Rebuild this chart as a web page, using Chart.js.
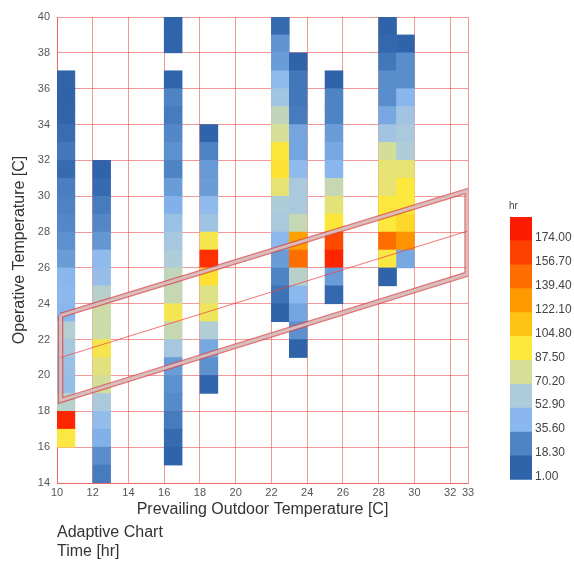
<!DOCTYPE html>
<html>
<head>
<meta charset="utf-8">
<title>Adaptive Chart</title>
<script src="https://cdn.jsdelivr.net/npm/chart.js@4.4.1/dist/chart.umd.min.js"></script>
<style>
  html, body { margin: 0; padding: 0; background: #fff; }
  #wrap { position: relative; width: 574px; height: 571px; font-family: 'Liberation Sans', Arial, sans-serif; }
  #mainBox { position: absolute; left: 0; top: 0; width: 574px; height: 571px; }
  #legendBox { position: absolute; left: 505px; top: 205px; width: 69px; height: 285px; }
  .unit { position: absolute; left: 509px; top: 200px; font-size: 10px; color: #444; }
  .caption { position: absolute; left: 57px; top: 523px; font-size: 16px; line-height: 18.5px; color: #333; }
</style>
</head>
<body>
<div id="wrap">
  <div id="mainBox"><canvas id="adaptiveChart"></canvas></div>
  <div id="legendBox"><canvas id="legendChart"></canvas></div>
  <div class="unit">hr</div>
  <div class="caption">Adaptive Chart<br>Time [hr]</div>
</div>
<script>
// axis ticks
const xTicks = [10, 12, 14, 16, 18, 20, 22, 24, 26, 28, 30, 32, 33];

// heatmap columns: left edge of each 1C column and the top of its first cell
const columnX = [10, 12, 16, 18, 22, 23, 25, 28, 29];
const columnTop = [37, 32, 40, 34, 40, 38, 37, 40, 39];

// hours per 1C cell, read from the top cell downwards (null = empty cell)
const hours10 = [10, 6, 10, 15, 20, 14, 24, 26, 28, 31, 35, 44, 45, 44, 64, 58, 52, 50, 66, 178, 95];
const hours12 = [8, 14, 22, 28, 33, 46, 50, 66, 75, 75, 93, 84, 78, 60, 48, 42, 30, 22];
const hours16 = [10, 10, null, 10, 27, 22, 28, 31, 27, 35, 42, 52, 58, 62, 70, 72, 92, 72, 58, 35, 31, 29, 22, 14, 9];
const hours18 = [9, 26, 34, 35, 46, 54, 93, 172, 100, 82, 90, 63, 39, 31, 10];
const hours22 = [14, 32, 35, 46, 55, 70, 79, 97, 99, 86, 62, 60, 45, 35, 27, 18, 9];
const hours23 = [8, 20, 20, 22, 38, 38, 46, 60, 60, 72, 128, 148, 66, 45, 38, 31, 9];
const hours25 = [9, 27, 27, 35, 39, 44, 72, 85, 97, 162, 178, 35, 12];
const hours28 = [8, 12, 20, 30, 30, 39, 55, 78, 86, 86, 96, 96, 148, 95, 9];
const hours29 = [8, 30, 30, 44, 55, 60, 62, 86, 96, 96, 104, 133, 39];
const columnHours = [hours10, hours12, hours16, hours18, hours22, hours23, hours25, hours28, hours29];

// colour legend
const legendLabels = ['1.00', '18.30', '35.60', '52.90', '70.20', '87.50', '104.80', '122.10', '139.40', '156.70', '174.00'];
const legendColors = ['#2f63aa', '#4f84c4', '#8ab8ee', '#aecbdb', '#d5df98', '#fde83c', '#fec313', '#fe9a00', '#fe6d00', '#fe4000', '#fd1c00'];
const legendStep = 17.3;

// comfort zone outline and neutral line
const bandX = [10.2, 32.95, 32.95, 10.2, 10.2];
const bandY = [23.35, 30.3, 25.65, 18.6, 23.35];
const meanX = [10.2, 32.95];
const meanY = [21.0, 28.05];

const gridColor = 'rgba(235, 50, 50, 0.5)';

Chart.defaults.font.family = "'Liberation Sans', Arial, sans-serif";

function hexToRgb(hex) {
  const n = parseInt(hex.slice(1), 16);
  return [n >> 16, (n >> 8) & 255, n & 255];
}

function colorFor(value) {
  let p = (value - 1) / legendStep - 0.5;
  p = Math.max(0, Math.min(legendColors.length - 1, p));
  const i = Math.min(Math.floor(p), legendColors.length - 2);
  const t = p - i;
  const a = hexToRgb(legendColors[i]);
  const b = hexToRgb(legendColors[i + 1]);
  const c = a.map((ch, k) => Math.round(ch + (b[k] - ch) * t));
  return `rgb(${c.join(',')})`;
}

function buildCells() {
  const cells = [];
  columnX.forEach((x0, i) => {
    columnHours[i].forEach((v, j) => {
      if (v === null) return;
      const top = columnTop[i] - j;
      cells.push({ x: x0 + 0.5, y: [top - 1, top], v });
    });
  });
  return cells;
}

function toPoints(xs, ys) {
  return xs.map((x, i) => ({ x, y: ys[i] }));
}

const lineBase = { type: 'line', pointRadius: 0, fill: false, tension: 0, borderJoinStyle: 'miter' };

new Chart(document.getElementById('adaptiveChart'), {
  type: 'bar',
  data: {
    datasets: [
      { ...lineBase, data: toPoints(meanX, meanY), borderColor: 'rgba(235, 70, 70, 0.75)', borderWidth: 1, order: 0 },
      { ...lineBase, data: toPoints(bandX, bandY), borderColor: 'rgba(214, 200, 200, 0.88)', borderWidth: 3, order: 1 },
      { ...lineBase, data: toPoints(bandX, bandY), borderColor: 'rgba(215, 70, 70, 0.75)', borderWidth: 5.5, order: 2 },
      {
        data: buildCells(),
        backgroundColor: (ctx) => (ctx.raw ? colorFor(ctx.raw.v) : '#fff'),
        barPercentage: 1,
        categoryPercentage: 1,
        grouped: false,
        order: 3,
      },
    ],
  },
  options: {
    responsive: true,
    maintainAspectRatio: false,
    animation: false,
    layout: { padding: { top: 17, right: 106, bottom: 48, left: 0 } },
    plugins: {
      legend: { display: false },
      tooltip: { enabled: false },
    },
    scales: {
      x: {
        type: 'linear',
        min: 10,
        max: 33,
        offset: false,
        z: 1,
        afterBuildTicks: (scale) => {
          scale.ticks = xTicks.map((value) => ({ value }));
        },
        afterFit: (scale) => {
          scale.height = 40;
        },
        grid: { color: gridColor, drawTicks: false, offset: false },
        border: { color: gridColor },
        ticks: { color: '#555', font: { size: 11 }, padding: 3, autoSkip: false, maxRotation: 0 },
        title: {
          display: true,
          text: 'Prevailing Outdoor Temperature [C]',
          color: '#333',
          font: { size: 16 },
          padding: { top: 0, bottom: 4 },
        },
      },
      y: {
        type: 'linear',
        min: 14,
        max: 40,
        z: 1,
        afterFit: (scale) => {
          scale.width = 57;
        },
        grid: { color: gridColor, drawTicks: false },
        border: { color: gridColor },
        ticks: { stepSize: 2, color: '#555', font: { size: 11 }, padding: 7 },
        title: {
          display: true,
          text: 'Operative Temperature [C]',
          color: '#333',
          font: { size: 16 },
          padding: { top: 10, bottom: 0 },
        },
      },
    },
  },
});

new Chart(document.getElementById('legendChart'), {
  type: 'bar',
  data: {
    labels: [''],
    datasets: legendColors.map((color) => ({
      data: [1],
      backgroundColor: color,
      barPercentage: 1,
      categoryPercentage: 1,
    })),
  },
  options: {
    responsive: true,
    maintainAspectRatio: false,
    animation: false,
    layout: { padding: { top: 12, bottom: 7, left: 5, right: 0 } },
    plugins: {
      legend: { display: false },
      tooltip: { enabled: false },
    },
    scales: {
      x: { stacked: true, display: false },
      y: {
        stacked: true,
        position: 'right',
        min: 0,
        max: legendColors.length,
        afterFit: (scale) => {
          scale.width = 42;
        },
        grid: { display: false, drawTicks: false },
        border: { display: false },
        ticks: {
          stepSize: 1,
          autoSkip: false,
          color: '#444',
          font: { size: 12 },
          padding: 3,
          labelOffset: -3,
          callback: (value) => legendLabels[value] ?? '',
        },
      },
    },
  },
});
</script>
</body>
</html>
